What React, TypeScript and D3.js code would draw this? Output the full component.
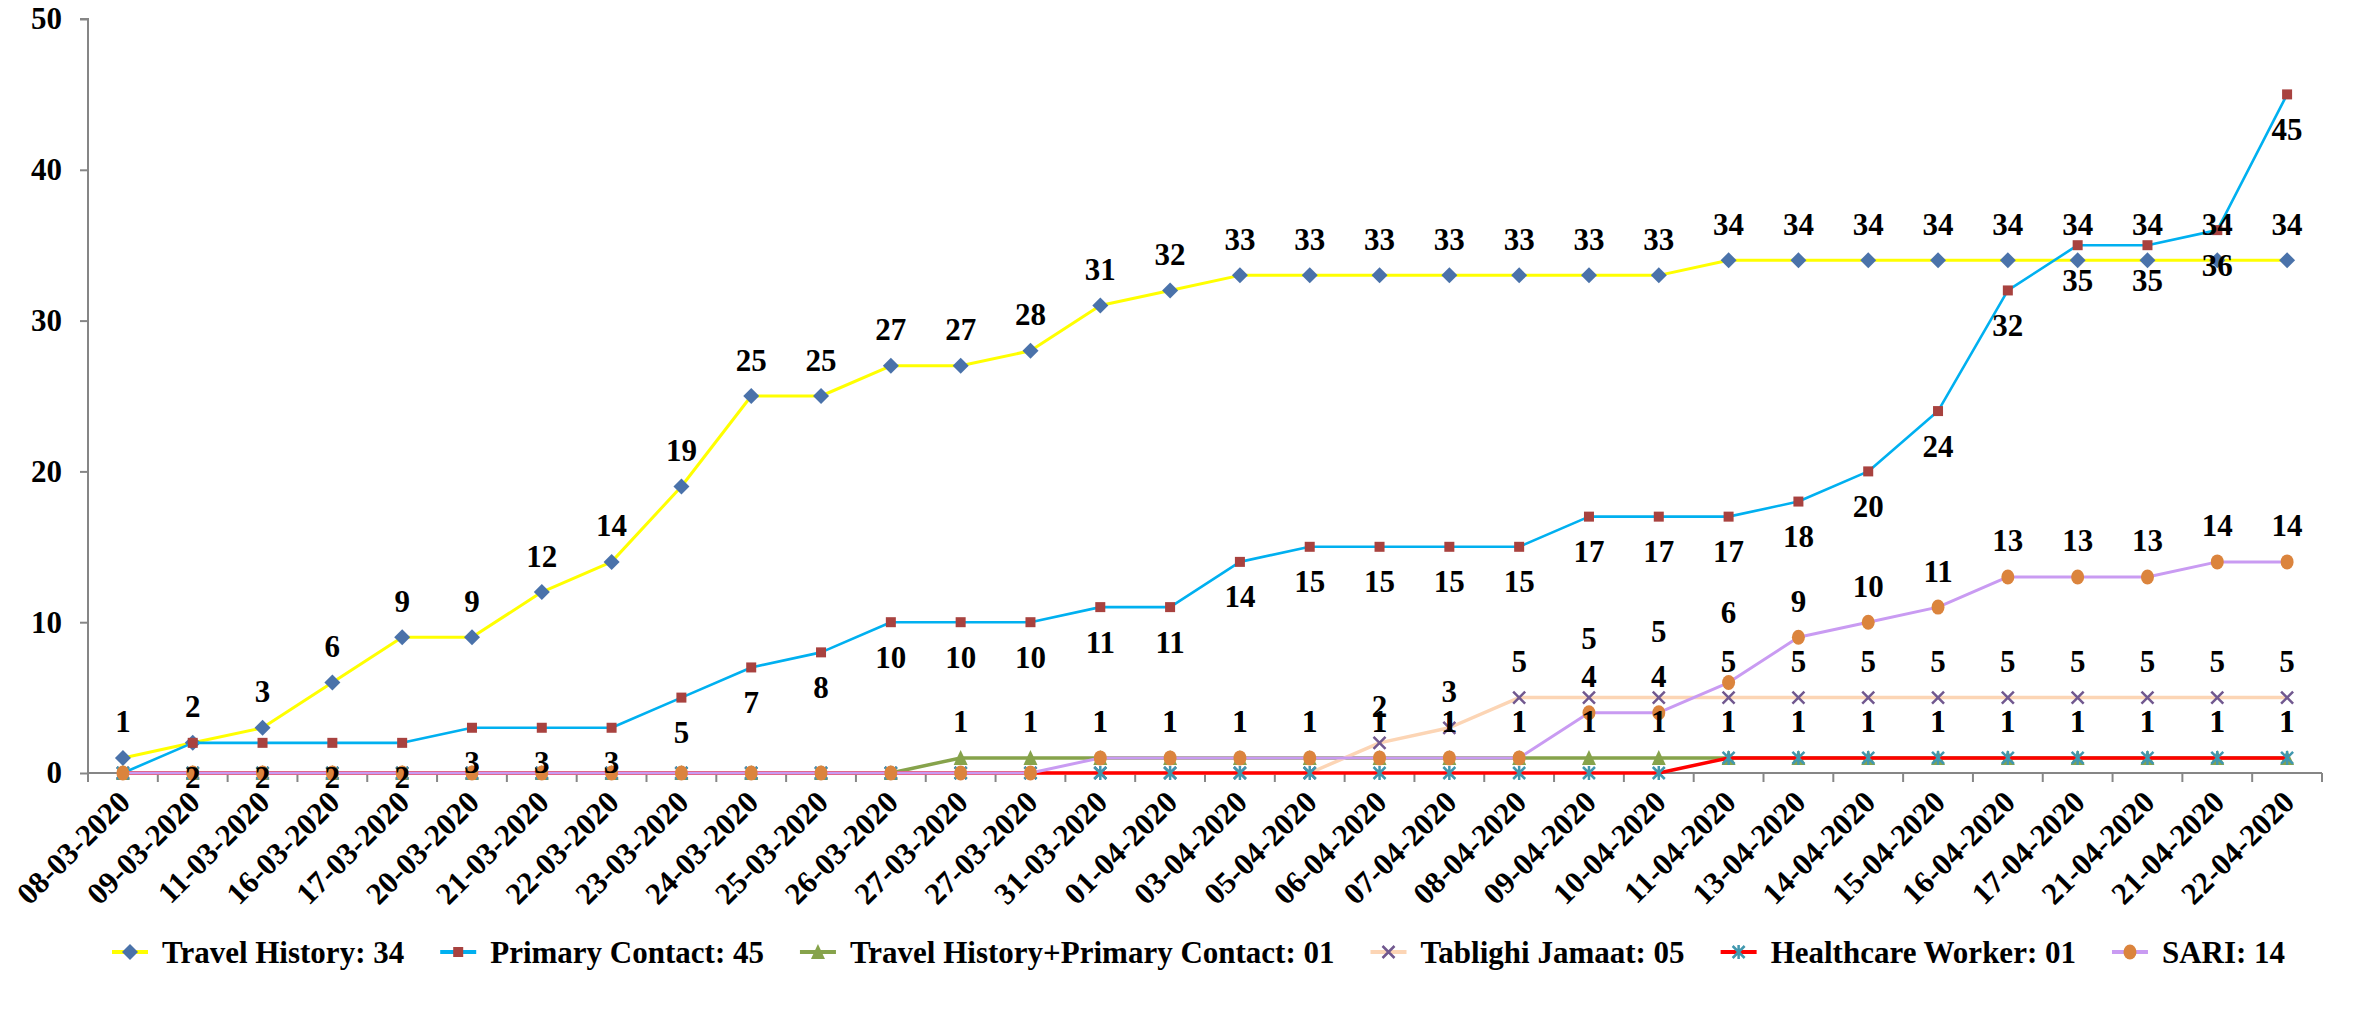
import React, { useEffect, useRef } from 'react';
import * as d3 from 'd3';

const dates = [
  '08-03-2020', '09-03-2020', '11-03-2020', '16-03-2020', '17-03-2020', '20-03-2020', '21-03-2020', '22-03-2020',
  '23-03-2020', '24-03-2020', '25-03-2020', '26-03-2020', '27-03-2020', '27-03-2020', '31-03-2020', '01-04-2020',
  '03-04-2020', '05-04-2020', '06-04-2020', '07-04-2020', '08-04-2020', '09-04-2020', '10-04-2020', '11-04-2020',
  '13-04-2020', '14-04-2020', '15-04-2020', '16-04-2020', '17-04-2020', '21-04-2020', '21-04-2020', '22-04-2020',
];
const travelHistory = [1, 2, 3, 6, 9, 9, 12, 14, 19, 25, 25, 27, 27, 28, 31, 32, 33, 33, 33, 33, 33, 33, 33, 34, 34, 34, 34, 34, 34, 34, 34, 34];
const primaryContact = [0, 2, 2, 2, 2, 3, 3, 3, 5, 7, 8, 10, 10, 10, 11, 11, 14, 15, 15, 15, 15, 17, 17, 17, 18, 20, 24, 32, 35, 35, 36, 45];
const travelPlusPrimary = [0, 0, 0, 0, 0, 0, 0, 0, 0, 0, 0, 0, 1, 1, 1, 1, 1, 1, 1, 1, 1, 1, 1, 1, 1, 1, 1, 1, 1, 1, 1, 1];
const tablighiJamaat = [0, 0, 0, 0, 0, 0, 0, 0, 0, 0, 0, 0, 0, 0, 0, 0, 0, 0, 2, 3, 5, 5, 5, 5, 5, 5, 5, 5, 5, 5, 5, 5];
const healthcareWorker = [0, 0, 0, 0, 0, 0, 0, 0, 0, 0, 0, 0, 0, 0, 0, 0, 0, 0, 0, 0, 0, 0, 0, 1, 1, 1, 1, 1, 1, 1, 1, 1];
const sari = [0, 0, 0, 0, 0, 0, 0, 0, 0, 0, 0, 0, 0, 0, 1, 1, 1, 1, 1, 1, 1, 4, 4, 6, 9, 10, 11, 13, 13, 13, 14, 14];
const legendLabels = [
  'Travel History: 34', 'Primary Contact: 45', 'Travel History+Primary Contact: 01',
  'Tablighi Jamaat: 05', 'Healthcare Worker: 01', 'SARI: 14',
];
const yTicks = [0, 10, 20, 30, 40, 50];

type Marker = 'diamond' | 'square' | 'triangle' | 'x' | 'star' | 'circle';
interface SeriesDef { name: string; values: number[]; line: string; lw: number; marker: Marker; mc: string; pos: 'above' | 'below'; }

const series: SeriesDef[] = [
  { name: legendLabels[0], values: travelHistory, line: '#FFFF00', lw: 3, marker: 'diamond', mc: '#4A72AA', pos: 'above' },
  { name: legendLabels[1], values: primaryContact, line: '#00B0F0', lw: 2.6, marker: 'square', mc: '#A8423F', pos: 'below' },
  { name: legendLabels[2], values: travelPlusPrimary, line: '#86A34B', lw: 3.5, marker: 'triangle', mc: '#86A34B', pos: 'above' },
  { name: legendLabels[3], values: tablighiJamaat, line: '#FCD5B5', lw: 3.5, marker: 'x', mc: '#71588F', pos: 'above' },
  { name: legendLabels[4], values: healthcareWorker, line: '#FF0000', lw: 3.5, marker: 'star', mc: '#4198AF', pos: 'above' },
  { name: legendLabels[5], values: sari, line: '#C99BF2', lw: 3, marker: 'circle', mc: '#DB843D', pos: 'above' },
];

// manual label nudges (series index -> point index -> extra px)
const labelNudge: Record<number, Record<number, number>> = { 3: { 21: -23, 22: -30 }, 5: { 23: -34 } };

const W = 2356, H = 1015;
const FONT = "'Liberation Serif', 'Times New Roman', serif";

function drawMarker(g: any, type: Marker, color: string, cx: number, cy: number) {
  if (type === 'diamond') {
    g.append('path').attr('d', `M${cx},${cy - 8}L${cx + 8},${cy}L${cx},${cy + 8}L${cx - 8},${cy}Z`).attr('fill', color);
  } else if (type === 'square') {
    g.append('rect').attr('x', cx - 5).attr('y', cy - 5).attr('width', 10).attr('height', 10).attr('fill', color);
  } else if (type === 'triangle') {
    g.append('path').attr('d', `M${cx},${cy - 8}L${cx + 7},${cy + 7}L${cx - 7},${cy + 7}Z`).attr('fill', color);
  } else if (type === 'x') {
    g.append('path').attr('d', `M${cx - 6},${cy - 6}L${cx + 6},${cy + 6}M${cx - 6},${cy + 6}L${cx + 6},${cy - 6}`)
      .attr('stroke', color).attr('stroke-width', 2.5).attr('fill', 'none');
  } else if (type === 'star') {
    g.append('path').attr('d', `M${cx - 6},${cy - 6}L${cx + 6},${cy + 6}M${cx - 6},${cy + 6}L${cx + 6},${cy - 6}M${cx},${cy - 7}L${cx},${cy + 7}`)
      .attr('stroke', color).attr('stroke-width', 2.5).attr('fill', 'none');
  } else {
    g.append('ellipse').attr('cx', cx).attr('cy', cy).attr('rx', 6.5).attr('ry', 7.5).attr('fill', color);
  }
}

export default function App() {
  const ref = useRef<SVGSVGElement>(null);
  useEffect(() => {
    const svg = d3.select(ref.current);
    svg.selectAll('*').remove();
    const n = dates.length;
    const x = d3.scaleBand<number>().domain(d3.range(n)).range([88, 2322]).padding(0);
    const bw = x.bandwidth();
    const cx = (i: number) => (x(i) as number) + bw / 2;
    const y = d3.scaleLinear().domain([0, 50]).range([773, 19]);

    // Y axis
    const ya = svg.append('g').attr('transform', 'translate(88,0)')
      .call(d3.axisLeft(y).tickValues(yTicks).tickSize(8).tickPadding(18).tickFormat(d3.format('d')) as any);
    ya.select('.domain').attr('stroke', '#868686').attr('stroke-width', 2).attr('d', `M-8,${y(50)}H0V${y(0)}`);
    ya.selectAll('.tick line').attr('stroke', '#868686').attr('stroke-width', 2);
    ya.selectAll('.tick text').attr('font-family', FONT).attr('font-weight', 'bold').attr('font-size', 31).attr('fill', '#000');

    // X axis
    const xa = svg.append('g');
    xa.append('line').attr('x1', 88).attr('x2', 2322).attr('y1', y(0)).attr('y2', y(0)).attr('stroke', '#868686').attr('stroke-width', 2);
    d3.range(n + 1).forEach(i => {
      const xx = 88 + i * bw;
      xa.append('line').attr('x1', xx).attr('x2', xx).attr('y1', y(0)).attr('y2', y(0) + 9).attr('stroke', '#868686').attr('stroke-width', 2);
    });
    dates.forEach((d, i) => {
      xa.append('text').attr('transform', `translate(${cx(i) + 9},${y(0) + 31}) rotate(-45)`)
        .attr('text-anchor', 'end').attr('font-family', FONT).attr('font-weight', 'bold').attr('font-size', 31).attr('fill', '#000')
        .text(d);
    });

    // series
    const line = d3.line<number>().x((_, i) => cx(i)).y(v => y(v));
    series.forEach(s => {
      const g = svg.append('g');
      g.append('path').datum(s.values).attr('d', line as any).attr('fill', 'none').attr('stroke', s.line).attr('stroke-width', s.lw).attr('stroke-linejoin', 'round');
      s.values.forEach((v, i) => drawMarker(g, s.marker, s.mc, cx(i), y(v)));
    });

    // data labels
    const lg = svg.append('g');
    series.forEach((s, si) => {
      s.values.forEach((v, i) => {
        if (v === 0) return;
        const off = (s.pos === 'above' ? -36 : 35) + ((labelNudge[si] && labelNudge[si][i]) || 0);
        lg.append('text').attr('x', cx(i)).attr('y', y(v) + off).attr('text-anchor', 'middle').attr('dominant-baseline', 'central')
          .attr('font-family', FONT).attr('font-weight', 'bold').attr('font-size', 31).attr('fill', '#000').text(String(v));
      });
    });

    // legend
    const leg = svg.append('g');
    let tx = 162;
    const ly = 952;
    series.forEach(s => {
      const mx = tx - 32;
      leg.append('line').attr('x1', mx - 18).attr('x2', mx + 18).attr('y1', ly).attr('y2', ly).attr('stroke', s.line).attr('stroke-width', 4);
      drawMarker(leg, s.marker, s.mc, mx, ly);
      const t = leg.append('text').attr('x', tx).attr('y', ly + 11).attr('font-family', FONT).attr('font-weight', 'bold')
        .attr('font-size', 31).attr('fill', '#000').text(s.name);
      const w = (t.node() as SVGTextElement).getComputedTextLength();
      tx += w + 86;
    });
  }, []);
  return (
    <svg ref={ref} width={W} height={H} style={{ position: 'absolute', left: 0, top: 0, background: '#fff' }} />
  );
}
